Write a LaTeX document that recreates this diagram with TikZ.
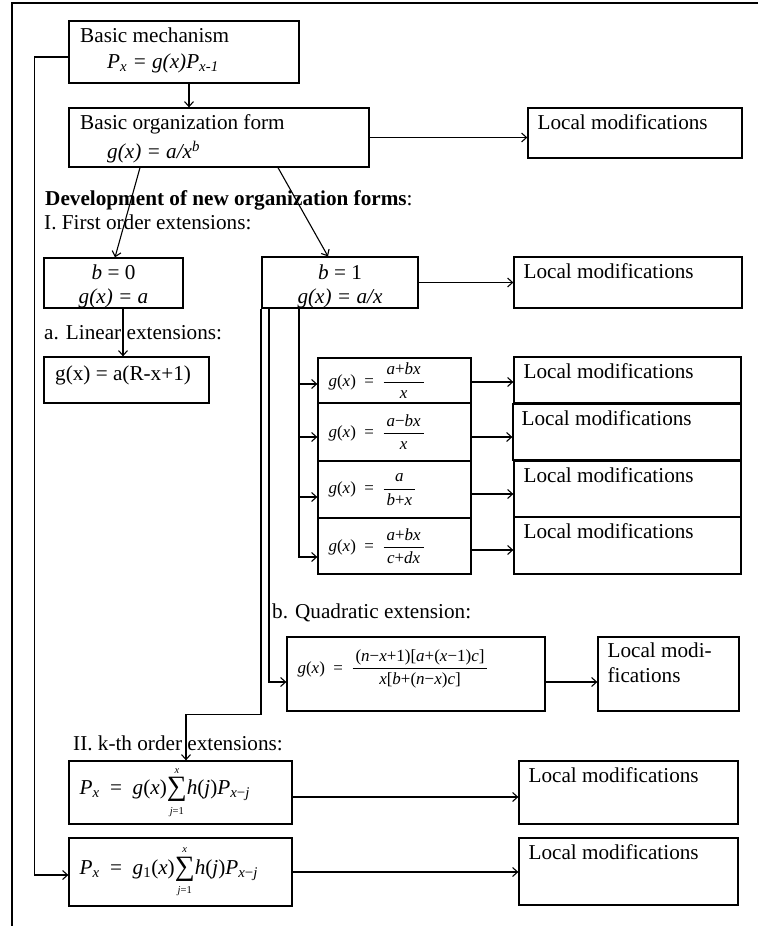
\documentclass[tikz,border=0pt]{standalone}
\usepackage{amsmath}
\usepackage{fontspec}
\setmainfont{Liberation Serif}
\usetikzlibrary{fit,arrows.meta}
\newcommand\mainsz{\fontsize{21.2}{25}\selectfont}
\newcommand\smsz{\fontsize{17}{20}\selectfont}
\newcommand\vi[1]{\textit{#1}}
\newcommand\fr[2]{$\dfrac{\hbox{\,#1\,}}{\hbox{\,#2\,}}$}
\newcommand\mn{\char"2212\relax}
\newcommand\limsz{\fontsize{10.5}{11}\selectfont}
\newcommand\bigsum{$\mathop{\vcenter{\hbox{\fontsize{28}{28}\selectfont\char"2211\relax}}}\limits_{\hbox{\limsz\vi{j}=1}}^{\hbox{\limsz\vi{x}}}$}
\begin{document}
\begin{tikzpicture}[x=1pt,y=-1pt,
  box/.style={draw, line width=1.3pt, inner sep=0pt},
  arr/.style={line width=1.1pt, -{Straight Barb[length=5pt,width=9pt]}},
  ln/.style={line width=1.1pt},
  every node/.style={inner sep=0pt, font=\mainsz}]
\useasboundingbox (0,0) rectangle (758,926);
\draw[line width=1.2pt] (758,3) -- (12,3) -- (12,926);

% boxes
\node[box, fit={(69,21) (299,83)}] (bm) {};
\node[box, fit={(69,108) (369,167)}] (org) {};
\node[box, fit={(528,108) (742,158)}] (lm0) {};
\node[box, fit={(44,258) (183,308)}] (b0) {};
\node[box, fit={(262,257) (418,308)}] (b1) {};
\node[box, fit={(514,257) (742,308)}] (lmb1) {};
\node[box, fit={(44,357) (209,403)}] (lin) {};
\node[box, fit={(318,358) (471,403)}] (f1) {};
\node[box, fit={(318,403) (471,461)}] (f2) {};
\node[box, fit={(318,461) (471,518)}] (f3) {};
\node[box, fit={(318,518) (471,574)}] (f4) {};
\node[box, fit={(514,357) (741,403)}] (lm1) {};
\node[box, fit={(513,404) (741,460)}] (lm2) {};
\node[box, fit={(514,461) (741,517)}] (lm3) {};
\node[box, fit={(514,517) (741,574)}] (lm4) {};
\node[box, fit={(287,637) (545,711)}] (quad) {};
\node[box, fit={(598,637) (739,711)}] (lmq) {};
\node[box, fit={(69,761) (292,824)}] (p1) {};
\node[box, fit={(519,761) (738,824)}] (lmp1) {};
\node[box, fit={(69,838) (292,906)}] (p2) {};
\node[box, fit={(519,838) (738,905)}] (lmp2) {};

% texts in boxes
\node[anchor=west] (tbm1) at (80,35) {Basic mechanism};
\node[anchor=west] (tbm2) at (107,63) {\vi{P\textsubscript{x} = g(x)P\textsubscript{x-1}}};
\node[anchor=west] (torg1) at (80,124) {Basic organization form};
\node[anchor=west] (torg2) at (107,152) {\vi{g(x) = a/x\textsuperscript{b}}};
\node (tb01) at (113.5,272) {\vi{b} = 0};
\node (tb02) at (113.5,298) {\vi{g(x) = a}};
\node (tb11) at (340,272) {\vi{b} = 1};
\node (tb12) at (340,298) {\vi{g(x) = a/x}};
\node[anchor=west] (tlin) at (55,375) {g(x) = a(R-x+1)};

\foreach \b in {lm0,lmb1,lm1,lm3,lm4,lmp1,lmp2}{
  \node[anchor=west] (t\b) at ([shift={(10,15)}]\b.north west) {Local modifications};}
\node[anchor=west] (tlm2) at ([shift={(9,15)}]lm2.north west) {Local modifications};
\node[anchor=north west, align=left] (tlmq) at ([shift={(10,6)}]lmq.north west) {Local modi-\\fications};

\node[anchor=west, font=\smsz] (tf1) at ([shift={(11,0)}]f1.west) {\vi{g}(\vi{x})\enspace=\enspace\fr{\vi{a}+\vi{bx}}{\vi{x}}};
\node[anchor=west, font=\smsz] (tf2) at ([shift={(11,0)}]f2.west) {\vi{g}(\vi{x})\enspace=\enspace\fr{\vi{a}\mn\vi{bx}}{\vi{x}}};
\node[anchor=west, font=\smsz] (tf3) at ([shift={(11,0)}]f3.west) {\vi{g}(\vi{x})\enspace=\enspace\fr{\vi{a}}{\vi{b}+\vi{x}}};
\node[anchor=west, font=\smsz] (tf4) at ([shift={(11,0)}]f4.west) {\vi{g}(\vi{x})\enspace=\enspace\fr{\vi{a}+\vi{bx}}{\vi{c}+\vi{dx}}};
\node[anchor=west, font=\smsz] (tq) at ([shift={(11,-5)}]quad.west) {\vi{g}(\vi{x})\enspace=\enspace\fr{(\vi{n}\mn\vi{x}+1)[\vi{a}+(\vi{x}\mn1)\vi{c}]}{\vi{x}[\vi{b}+(\vi{n}\mn\vi{x})\vi{c}]}};
\node[anchor=west] (tp1) at ([xshift=11pt]p1.west) {\vi{P}\textsubscript{\vi{x}}\enspace=\enspace\vi{g}(\vi{x})\bigsum\vi{h}(\vi{j})\vi{P}\textsubscript{\vi{x}\mn\vi{j}}};
\node[anchor=west] (tp2) at ([xshift=11pt]p2.west) {\vi{P}\textsubscript{\vi{x}}\enspace=\enspace\vi{g}\textsubscript{1}(\vi{x})\bigsum\vi{h}(\vi{j})\vi{P}\textsubscript{\vi{x}\mn\vi{j}}};

% free texts
\node[anchor=west] (dev) at (45,200) {\textbf{Development of new organization forms}:};
\node[anchor=west] (first) at (44,222) {I. First order extensions:};
\node[anchor=west] (linx) at (44,333) {a. Linear extensions:};
\node[anchor=west] (quadx) at (272,613) {b. Quadratic extension:};
\node[anchor=west] (kth) at (73,743) {II. k-th order extensions:};

% connectors
\draw[arr] ([xshift=5pt]bm.south) -- ([xshift=5pt]bm.south |- org.north);
\draw[arr] (org.east) -- (org.east -| lm0.west);
\draw[arr] ([xshift=-79pt]org.south) -- ([xshift=1.5pt]b0.north);
\draw[arr] ([xshift=59pt]org.south) -- ([xshift=-12pt]b1.north);
\draw[arr] (b1.east) -- (b1.east -| lmb1.west);
\draw[arr] ([xshift=9.5pt]b0.south) -- ([xshift=9.5pt]b0.south |- lin.north);

\coordinate (s1) at ([xshift=-41pt]b1.south);
\coordinate (a1) at ([yshift=-3.5pt]f1.west);
\coordinate (a2) at ([yshift=-5pt]f2.west);
\coordinate (a3) at ([yshift=-7.5pt]f3.west);
\coordinate (a4) at ([yshift=-11pt]f4.west);
\draw[arr] (s1) |- (a4);
\draw[arr] (s1 |- a1) -- (a1);
\draw[arr] (s1 |- a2) -- (a2);
\draw[arr] (s1 |- a3) -- (a3);

\coordinate (e1) at ([yshift=-1.5pt]f1.east);
\coordinate (e2) at ([yshift=-5pt]f2.east);
\coordinate (e3) at ([yshift=-4.5pt]f3.east);
\coordinate (e4) at ([yshift=-4pt]f4.east);
\draw[arr] (e1) -- (e1 -| lm1.west);
\draw[arr] (e2) -- (e2 -| lm2.west);
\draw[arr] (e3) -- (e3 -| lm3.west);
\draw[arr] (e4) -- (e4 -| lm4.west);

\coordinate (s2) at ([xshift=-71pt]b1.south);
\coordinate (aq) at ([yshift=-8pt]quad.west);
\draw[arr] (s2) |- (aq);
\draw[arr] (aq -| quad.east) -- (aq -| lmq.west);

\coordinate (s3) at ([xshift=-79pt]b1.south);
\coordinate (ap) at ([xshift=5.5pt]p1.north);
\draw[arr] (s3) |- ([yshift=46pt]ap) -- (ap);
\draw[arr] ([yshift=-4.5pt]p1.east) -- ([yshift=-4.5pt]p1.east -| lmp1.west);
\draw[arr] (p2.east) -- (p2.east -| lmp2.west);
\draw[arr] ([yshift=-5pt]bm.west) -- ++(-34,0) |- ([yshift=-3pt]p2.west);
\end{tikzpicture}
\end{document}
